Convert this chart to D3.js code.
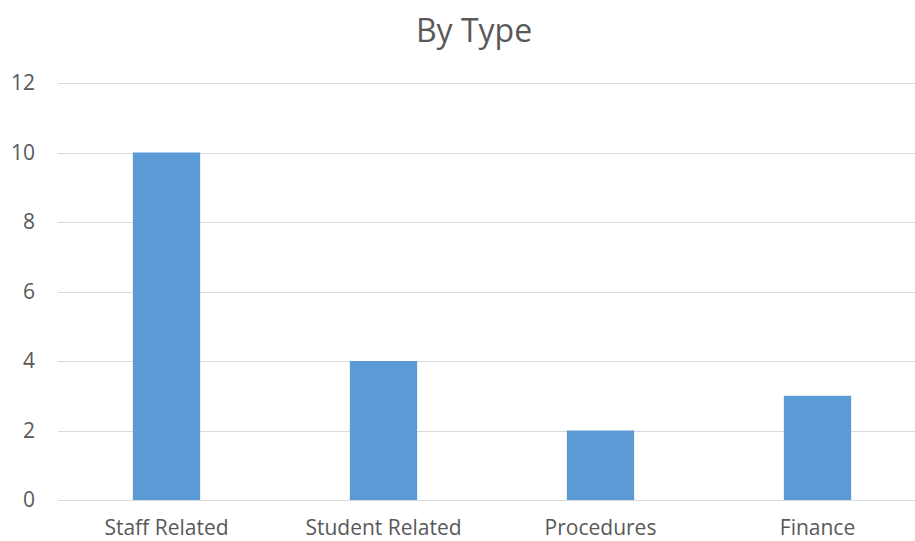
<!DOCTYPE html>
<html>
<head>
<meta charset="utf-8">
<script src="https://cdn.jsdelivr.net/npm/d3@7"></script>
<style>
  body { margin: 0; background: #fff; }
  text { font-family: "Open Sans", sans-serif; fill: #595959; }
</style>
</head>
<body>
<svg id="chart" width="915" height="541"></svg>
<script>
const categories = ['Staff Related', 'Student Related', 'Procedures', 'Finance'];
const counts = [10, 4, 2, 3];
const yTicks = [0, 2, 4, 6, 8, 10, 12];

const svg = d3.select('#chart');
const plotLeft = 58, plotRight = 926, plotTop = 83, plotBottom = 500;

const x = d3.scaleBand()
    .domain(categories)
    .range([plotLeft, plotRight])
    .paddingInner(0.69)
    .paddingOuter(0.345);

const y = d3.scaleLinear()
    .domain([0, 12])
    .range([plotBottom, plotTop]);

svg.append('text')
    .attr('x', 474)
    .attr('y', 42)
    .attr('text-anchor', 'middle')
    .style('font-size', '32px')
    .text('By Type');

// gridlines
svg.append('g')
    .selectAll('line')
    .data(yTicks)
    .enter()
    .append('line')
    .attr('x1', plotLeft)
    .attr('x2', 915)
    .attr('y1', d => Math.round(y(d)) + 0.5)
    .attr('y2', d => Math.round(y(d)) + 0.5)
    .attr('stroke', '#d9d9d9')
    .attr('stroke-width', 1);

const yAxis = svg.append('g')
    .attr('transform', `translate(${plotLeft},0)`)
    .call(d3.axisLeft(y).tickValues(yTicks).tickSize(0).tickPadding(23));
yAxis.select('.domain').remove();
yAxis.selectAll('text').style('font-size', '21px').attr('fill', '#595959');

svg.append('g')
    .selectAll('rect')
    .data(counts)
    .enter()
    .append('rect')
    .attr('x', (d, i) => x(categories[i]))
    .attr('width', x.bandwidth())
    .attr('y', d => y(d))
    .attr('height', d => y(0) - y(d))
    .attr('fill', '#5b9bd5');

const xAxis = svg.append('g')
    .attr('transform', `translate(0,${plotBottom})`)
    .call(d3.axisBottom(x).tickSize(0).tickPadding(20));
xAxis.select('.domain').remove();
xAxis.selectAll('text').style('font-size', '21px').attr('fill', '#595959');
</script>
</body>
</html>
